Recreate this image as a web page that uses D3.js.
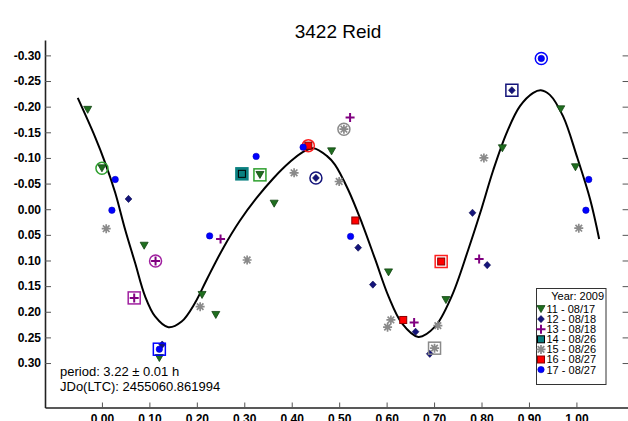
<!DOCTYPE html>
<html>
<head>
<meta charset="utf-8">
<script src="https://cdn.jsdelivr.net/npm/d3@7"></script>
<style>
  body { margin: 0; background: #fff; }
  svg { display: block; font-family: Arial, "Liberation Sans", sans-serif; }
</style>
</head>
<body>
<svg id="chart" width="628" height="421"></svg>
<script>
// ---- Data -------------------------------------------------------------
const chartTitle = "3422 Reid";
const periodText = "period: 3.22 \u00b1 0.01 h";
const epochText = "JDo(LTC): 2455060.861994";
const legendTitle = "Year: 2009";

const xTicks = [0.00, 0.10, 0.20, 0.30, 0.40, 0.50, 0.60, 0.70, 0.80, 0.90, 1.00];
const yTicks = [-0.30, -0.25, -0.20, -0.15, -0.10, -0.05, 0.00, 0.05, 0.10, 0.15, 0.20, 0.25, 0.30];

const sessionNames = ["11 - 08/17", "12 - 08/18", "13 - 08/18", "14 - 08/26", "15 - 08/26", "16 - 08/27", "17 - 08/27"];

// [phase, reduced magnitude, optional mark: "o" = ringed, "s" = boxed]
const session11 = [[-0.030, -0.194], [0.000, -0.080, "o"], [0.089, 0.071], [0.121, 0.290], [0.211, 0.167],
  [0.240, 0.206], [0.333, -0.067, "s"], [0.363, -0.011], [0.484, -0.113], [0.604, 0.123], [0.725, 0.177],
  [0.844, -0.119], [0.967, -0.195], [0.998, -0.082]];
const session12 = [[0.056, -0.020], [0.127, 0.264], [0.451, -0.061, "o"], [0.540, 0.075], [0.571, 0.147],
  [0.661, 0.239], [0.691, 0.282], [0.781, 0.007], [0.812, 0.109], [0.864, -0.232, "s"]];
const session13 = [[0.068, 0.173, "s"], [0.113, 0.101, "o"], [0.250, 0.058], [0.523, -0.179], [0.658, 0.221],
  [0.795, 0.097]];
const session14 = [[0.295, -0.069, "s"]];
const session15 = [[0.009, 0.038], [0.207, 0.190], [0.306, 0.099], [0.405, -0.071], [0.500, -0.054],
  [0.510, -0.156, "o"], [0.602, 0.230], [0.609, 0.216], [0.701, 0.271, "s"], [0.708, 0.227], [0.805, -0.100],
  [1.005, 0.037]];
const session16 = [[0.435, -0.124, "o"], [0.534, 0.022], [0.635, 0.216], [0.715, 0.102, "s"]];
const session17 = [[0.021, 0.002], [0.028, -0.058], [0.121, 0.273, "s"], [0.227, 0.052], [0.325, -0.103],
  [0.424, -0.121], [0.524, 0.053], [0.926, -0.294, "o"], [1.020, 0.002], [1.026, -0.058]];

// Fourier fit, sampled along the phase axis
const fitPhase = [-0.051, -0.015, 0.007, 0.028, 0.049, 0.070, 0.091, 0.112, 0.140, 0.168, 0.196, 0.221,
  0.256, 0.291, 0.326, 0.361, 0.396, 0.424, 0.446, 0.474, 0.491, 0.519, 0.548, 0.576, 0.604, 0.632, 0.667,
  0.702, 0.737, 0.772, 0.797, 0.825, 0.853, 0.881, 0.909, 0.925, 0.944, 0.972, 1.001, 1.029, 1.048];
const fitMag = [-0.217, -0.142, -0.090, -0.032, 0.040, 0.105, 0.170, 0.209, 0.230, 0.219, 0.183, 0.137,
  0.075, 0.022, -0.022, -0.060, -0.092, -0.112, -0.119, -0.104, -0.087, -0.038, 0.027, 0.098, 0.170, 0.222, 0.249,
  0.229, 0.170, 0.079, 0.008, -0.077, -0.149, -0.201, -0.227, -0.232, -0.223, -0.181, -0.103, -0.019, 0.058];

// ---- Styling ----------------------------------------------------------
const sessionData = [session11, session12, session13, session14, session15, session16, session17];
const sessionStyle = [
  { shape: "triangle", fill: "#1f6e1f", stroke: "#124412", ring: "#2ea02e" },
  { shape: "diamond",  fill: "#14147a", stroke: "#0a0a50", ring: "#14147a" },
  { shape: "plus",     fill: "none",    stroke: "#800080", ring: "#a020a0" },
  { shape: "square",   fill: "#0b8080", stroke: "#000000", ring: "#0b8080" },
  { shape: "asterisk", fill: "none",    stroke: "#8a8a8a", ring: "#8a8a8a" },
  { shape: "square",   fill: "#ff0000", stroke: "#8a0000", ring: "#ff2020" },
  { shape: "circle",   fill: "#0000ff", stroke: "#0000c0", ring: "#0000ff" }
];

const plotLeft = 45, plotRight = 628.6, plotTop = 40, plotBottom = 407.5;

const svg = d3.select("#chart");
const x = d3.scaleLinear().domain([-0.12, 1.11]).range([plotLeft, plotRight]);
const y = d3.scaleLinear().domain([-0.33, 0.3867]).range([plotTop, plotBottom]);
const fmt = v => d3.format(".2f")(v).replace("\u2212", "-");

// ---- Title ------------------------------------------------------------
svg.append("text")
  .attr("x", 338).attr("y", 38)
  .attr("text-anchor", "middle")
  .attr("font-size", 19)
  .attr("fill", "#000")
  .text(chartTitle);

// ---- Axes -------------------------------------------------------------
const yAxis = d3.axisLeft(y).tickValues(yTicks).tickFormat(fmt)
  .tickSizeInner(-6).tickSizeOuter(0).tickPadding(4);
const gy = svg.append("g").attr("transform", `translate(${plotLeft},0)`).call(yAxis);
gy.select(".domain").attr("stroke", "#222").attr("stroke-width", 1.6);
gy.selectAll(".tick line").attr("stroke", "#555").attr("stroke-width", 1);
gy.selectAll(".tick text").attr("font-size", 12).attr("font-weight", "bold")
  .attr("font-family", "Arial, 'Liberation Sans', sans-serif").attr("fill", "#000");

const yAxisRight = d3.axisLeft(y).tickValues(yTicks).tickFormat("").tickSizeInner(6).tickSizeOuter(0);
const gyr = svg.append("g").attr("transform", `translate(${plotRight},0)`).call(yAxisRight);
gyr.select(".domain").attr("stroke", "#222").attr("stroke-width", 1.6);
gyr.selectAll(".tick line").attr("stroke", "#555").attr("stroke-width", 1);

const xAxis = d3.axisBottom(x).tickValues(xTicks).tickFormat(fmt)
  .tickSizeInner(-5).tickSizeOuter(0).tickPadding(7);
const gx = svg.append("g").attr("transform", `translate(0,${plotBottom})`).call(xAxis);
gx.select(".domain").attr("stroke", "#222").attr("stroke-width", 1.6);
gx.selectAll(".tick line").attr("stroke", "#555").attr("stroke-width", 1);
gx.selectAll(".tick text").attr("font-size", 12).attr("font-weight", "bold")
  .attr("font-family", "Arial, 'Liberation Sans', sans-serif").attr("fill", "#000");

// ---- Fit curve --------------------------------------------------------
const fitPoints = fitPhase.map((p, i) => [p, fitMag[i]]);
svg.append("path")
  .datum(fitPoints)
  .attr("fill", "none")
  .attr("stroke", "#000")
  .attr("stroke-width", 2)
  .attr("d", d3.line().x(d => x(d[0])).y(d => y(d[1])).curve(d3.curveCatmullRom.alpha(0.5)));

// ---- Markers ----------------------------------------------------------
function drawMarker(g, st, cx, cy) {
  const m = g.append("g").attr("transform", `translate(${cx},${cy})`);
  switch (st.shape) {
    case "triangle":
      m.append("path").attr("d", "M-4,-3.4L4,-3.4L0,3.6Z")
        .attr("fill", st.fill).attr("stroke", st.stroke).attr("stroke-width", 0.8);
      break;
    case "diamond":
      m.append("path").attr("d", "M0,-3.6L3.4,0L0,3.6L-3.4,0Z")
        .attr("fill", st.fill).attr("stroke", st.stroke).attr("stroke-width", 0.6);
      break;
    case "plus":
      m.append("path").attr("d", "M-4.5,0H4.5M0,-4.5V4.5")
        .attr("fill", "none").attr("stroke", st.stroke).attr("stroke-width", 2);
      break;
    case "square":
      m.append("rect").attr("x", -3.5).attr("y", -3.5).attr("width", 7).attr("height", 7)
        .attr("fill", st.fill).attr("stroke", st.stroke).attr("stroke-width", 1);
      break;
    case "asterisk":
      m.append("path").attr("d", "M-4.5,0H4.5M0,-4.5V4.5M-3.3,-3.3L3.3,3.3M-3.3,3.3L3.3,-3.3")
        .attr("fill", "none").attr("stroke", st.stroke).attr("stroke-width", 1.7);
      break;
    case "circle":
      m.append("circle").attr("r", 3.2)
        .attr("fill", st.fill).attr("stroke", st.stroke).attr("stroke-width", 0.6);
      break;
  }
  return m;
}

const pointsLayer = svg.append("g");
sessionData.forEach((pts, si) => {
  const st = sessionStyle[si];
  const solidBox = st.shape === "square" && st.stroke === "#000000";
  pts.forEach(p => {
    const cx = x(p[0]), cy = y(p[1]);
    if (p[2] === "o") {
      pointsLayer.append("circle").attr("cx", cx).attr("cy", cy).attr("r", 6)
        .attr("fill", "none").attr("stroke", st.ring).attr("stroke-width", 1.5);
    } else if (p[2] === "s") {
      pointsLayer.append("rect").attr("x", cx - 6).attr("y", cy - 6)
        .attr("width", 12).attr("height", 12)
        .attr("fill", solidBox ? st.fill : "none")
        .attr("stroke", st.ring).attr("stroke-width", 1.5);
    }
    drawMarker(pointsLayer, st, cx, cy);
  });
});

// ---- Annotation -------------------------------------------------------
svg.append("text").attr("x", 60).attr("y", 376).attr("font-size", 13).attr("fill", "#000").text(periodText);
svg.append("text").attr("x", 60).attr("y", 390.5).attr("font-size", 13).attr("fill", "#000").text(epochText);

// ---- Legend -----------------------------------------------------------
const lg = svg.append("g");
lg.append("rect").attr("x", 536.5).attr("y", 288.5).attr("width", 69.5).attr("height", 96)
  .attr("fill", "#fff").attr("stroke", "#333").attr("stroke-width", 1);
lg.append("text").attr("x", 604).attr("y", 299.5).attr("text-anchor", "end")
  .attr("font-size", 11).attr("fill", "#000").text(legendTitle);
sessionNames.forEach((name, i) => {
  const cy = 309 + i * 10.1;
  drawMarker(lg, sessionStyle[i], 541, cy);
  lg.append("text").attr("x", 546.5).attr("y", cy + 3.9)
    .attr("font-size", 11).attr("fill", "#000").text(name);
});
</script>
</body>
</html>
